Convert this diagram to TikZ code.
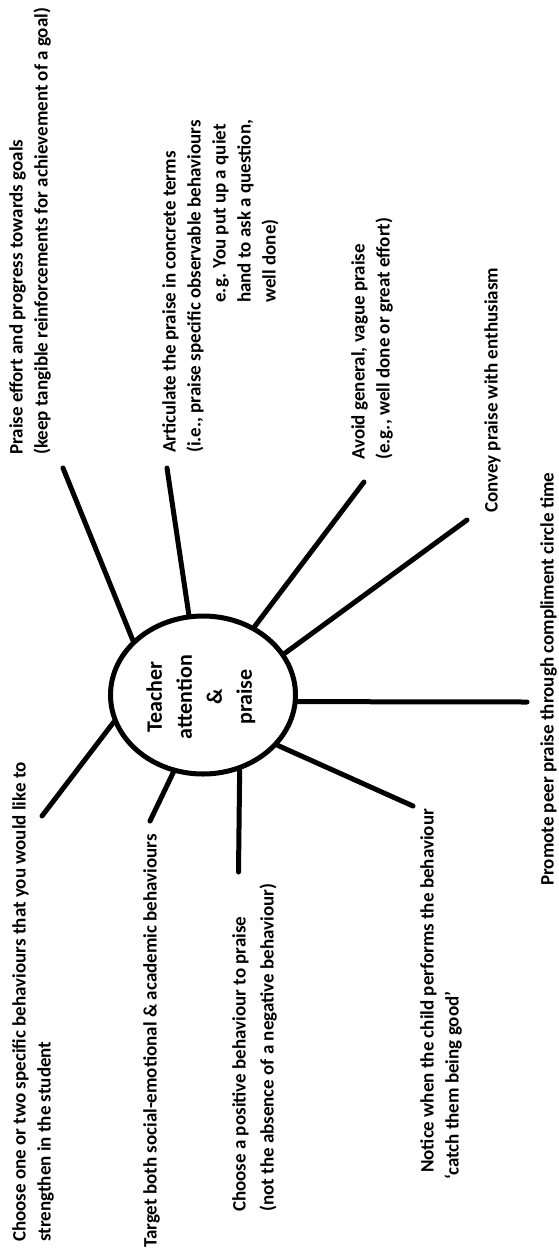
\documentclass[tikz,border=0pt]{standalone}
\usepackage{fontspec}
\setmainfont{Carlito}
\usetikzlibrary{shapes.geometric}
\begin{document}
\begin{tikzpicture}[x=1pt,y=-1pt,
  spoke/.style={line width=5pt, line cap=round},
  tip/.style={rotate=90, anchor=north west, inner sep=0pt, align=left,
    font=\bfseries\fontsize{19}{25}\selectfont},
  hub/.style={ellipse, draw, line width=5pt, minimum width=185pt,
    minimum height=158pt, inner sep=0pt},
  hubtext/.style={rotate=90, align=center, inner sep=0pt,
    font=\bfseries\fontsize{22}{30}\selectfont}]
\useasboundingbox[fill=white] (0,0) rectangle (559,1253);

% central hub
\node[hub] (c) at (203,695) {};
\node[hubtext] (ct) at (201,697) {Teacher\\attention\\\&\\praise};

% free ends of the spokes
\coordinate (e1) at (63,468);
\coordinate (e2) at (167,468);
\coordinate (e3) at (364,482);
\coordinate (e4) at (467,520);
\coordinate (e5) at (527,702);
\coordinate (e6) at (413,806);
\coordinate (e7) at (238.5,872);
\coordinate (e8) at (150,821);
\coordinate (e9) at (42,816);

\draw[spoke] (c.142.4) -- (e1);
\draw[spoke] (c.100.6) -- (e2);
\draw[spoke] (c.53.4)  -- (e3);
\draw[spoke] (c.27)    -- (e4);
\draw[spoke] (c.-4.35) -- (e5);
\draw[spoke] (c.-34.2) -- (e6);
\draw[spoke] (c.-64.1) -- (e7);
\draw[spoke] (c.-111.8) -- (e8);
\draw[spoke] (c.-163.3) -- (e9);

% labels
\node[tip] (t1) at (9,455) {Praise effort and progress towards goals\\(keep tangible reinforcements for achievement of a goal)};
\node[tip] (t2) at (162,453) {Articulate the praise in concrete terms\\(i.e., praise specific observable behaviours\\\hspace*{150pt}e.g. You put up a quiet\\\hspace*{150pt}hand to ask a question,\\\hspace*{150pt}well done)};
\node[tip] (t3) at (351,460) {Avoid general, vague praise\\(e.g., well done or great effort)};
\node[tip] (t4) at (484,513) {Convey praise with enthusiasm};
\node[tip] (t5) at (540,886) {Promote peer praise through compliment circle time};
\node[tip] (t6) at (420,1180) {\hspace*{7pt}Notice when the child performs the behaviour\\`catch them being good'};
\node[tip] (t7) at (232,1212) {Choose a positive behaviour to praise\\[3pt](not the absence of a negative behaviour)};
\node[tip] (t8) at (143,1248) {Target both social-emotional \& academic behaviours};
\node[tip] (t9) at (12,1242) {Choose one or two specific behaviours that you would like to\\strengthen in the student};
\end{tikzpicture}
\end{document}
